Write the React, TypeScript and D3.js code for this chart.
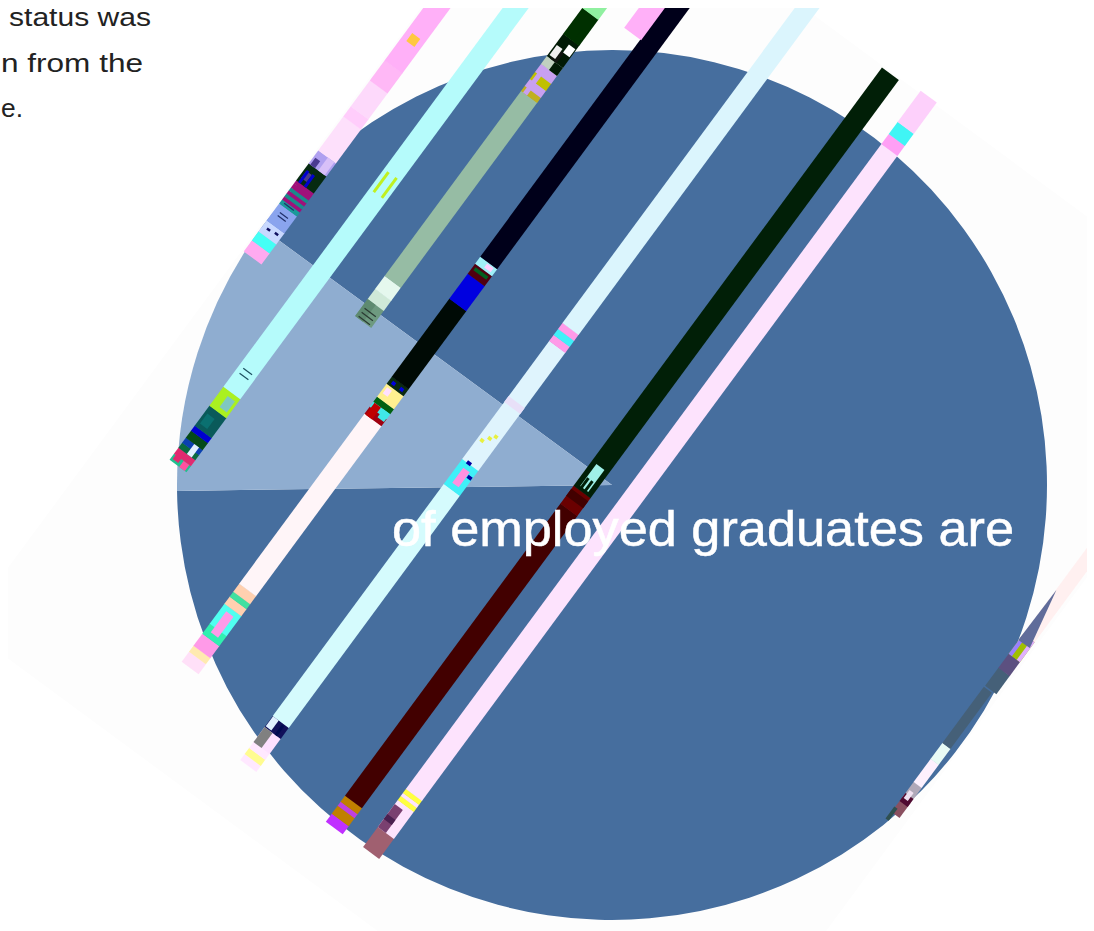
import React from "react";
import * as d3 from "d3";

const W = 1094, H = 931;
const shareValues = [89.7, 10.3];
const sliceColors = ["#466e9e", "#8fadd0"];
const headline = "of employed graduates are";
const noteLines = ["status was", "n from the", "e."];
const noteStarts = [9, 1, 1];
const noteLengths = [142, 142, 22];

type Stop = [number, string];
// each stripe: across-offset, thickness, stops read bottom-up (along-position, colour), last is the end
const stripeOffsets = [-424, -360.6, -297, -231, -251, -126, -20, 24.5, 424, 426.5];
const stripeWidths = [22, 21, 20, 21, 21, 20, 21, 20, 10, 14];
const stripeStops: Stop[][] = [
  [[258,"#ffaaf0"],[247,"#44fff5"],[238,"#c8d8ff"],[227,"#8aa4ee"],[210,"#1a9a9a"],[206,"#a0107a"],[203,"#1a8a8a"],[200,"#a0107a"],[197,"#1a8a8a"],[194,"#a0107a"],[190,"#a0107a"],[187,"#062a10"],[170,"#b0a0f0"],[157,"#fde0fb"],[123,"#ffcdfb"],[113,"#fdd9fb"],[87,"#ffb8f6"],[67,"#ffb0f8"],[0,""]],
  [[466,"#20c090"],[460,"#e02a70"],[454,"#0a6a40"],[449,"#0a40b0"],[444,"#054a18"],[437,"#0000d0"],[432,"#0a5a5a"],[412,"#aaf020"],[393,"#b5fbfb"],[0,""]],
  [[322,"#6e9a80"],[305,"#cfe9d8"],[295,"#e5f8ee"],[282,"#96bca4"],[97,"#c0b020"],[92,"#c8a0f0"],[85,"#c0c000"],[78,"#c8a0f0"],[70,"#c0d0c0"],[62,"#011a05"],[40,"#003000"],[14,"#90f0a0"],[0,""]],
  [[668,"#ffe0f8"],[658,"#ffeab0"],[652,"#ff9ae8"],[640,"#30f0b0"],[630,"#50fff0"],[610,"#ffd0b0"],[603,"#40e0a0"],[598,"#ffd0b0"],[590,"#fff5f8"],[420,"#a00010"],[413,"#40e8e8"],[408,"#006010"],[403,"#fff090"],[390,"#0a2a10"],[383,"#000a05"],[305,"#0000e0"],[280,"#500010"],[270,"#a0f0f8"],[263,"#00001a"],[0,""]],
  [[34,"#ffb0f8"],[0,""]],
  [[766,"#ffe8ff"],[760,"#fffc90"],[754,"#ffe8ff"],[748,"#fde0ff"],[733,"#10105a"],[722,"#d5fbfd"],[490,"#40f0f8"],[465,"#dff4fd"],[347,"#ff9ae8"],[341,"#40f0f8"],[335,"#ff9ae8"],[329,"#dbf5fd"],[0,""]],
  [[828,"#c030ff"],[820,"#c08000"],[812,"#c040e0"],[808,"#c08000"],[802,"#420000"],[510,"#6a0000"],[492,"#011f07"],[74,""]],
  [[853,"#a06070"],[833,"#fde3fd"],[806,"#ffff40"],[802,"#fde3fd"],[799,"#ffff40"],[795,"#fde3fd"],[150,"#ff9ff5"],[140,"#40f5f5"],[128,"#fdd0fb"],[97,""]],
  [[815,"#8a5060"],[800,"#b0a8b8"],[785,"#fdf0fd"],[762,"#e8fbf5"],[746,"#456078"],[690,""]],
  [[690,"#456078"],[672,"#5c5080"],[658,"#a0c000"],[638,"#fff0f0"],[530,""]],
];

// small glitch blocks: stripe index, along-from, along-to, across shift, thickness, colour
const glitchBlocks: [number, number, number, number, number, string][] = [
  [0,183,176,-5,7,"#4a3a90"],[0,170,157,5,8,"#d8c0f8"],[0,170,163,-6,6,"#4a3a90"],[0,187,175,0,3,"#0000d0"],[0,187,175,-7,3,"#0000d0"],
  [0,231,233,-4,4,"#101060"],[0,230,232,5,4,"#101060"],[0,207,208,-1,12,"#20306a"],[0,218,219,0,10,"#20306a"],[0,215,216,0,10,"#20306a"],
  [0,44,36,0,10,"#ffc840"],
  [1,195,175,-5,3,"#c0f020"],[1,195,175,5,3,"#c0f020"],[1,377,376,0,11,"#1d5060"],[1,372,371,0,11,"#1d5060"],
  [1,408,397,3,9,"#7fc8c0"],[1,428,418,-3,9,"#0a7070"],[1,454,444,3,6,"#e0f0ff"],[1,464,458,-5,7,"#e02a70"],[1,466,460,5,7,"#ff50a0"],
  [2,322,305,-5,10,"#5e8a70"],[2,321,320,0,14,"#2a3a32"],[2,317,316,0,14,"#2a3a32"],[2,313,312,0,14,"#2a3a32"],
  [2,97,70,-5,5,"#c8a0f0"],[2,70,62,5,10,"#011a05"],[2,62,52,-2,8,"#101510"],[2,52,44,5,8,"#ffffff"],[2,60,50,-5,7,"#f0f0f0"],[2,40,28,5,5,"#003000"],
  [3,614,635,0,9,"#ff9ae8"],[3,420,408,-5,8,"#c00000"],[3,416,408,6,8,"#40e8e8"],[3,398,392,-5,6,"#ffe0ff"],[3,388,385,-5,4,"#0000e0"],[3,388,385,5,4,"#0000e0"],
  [3,275,272,0,16,"#006020"],[3,268,264,3,8,"#ffd0ff"],
  [5,748,733,-5,10,"#808080"],[5,732,722,-6,7,"#e0f0ff"],[5,733,723,4,3,"#000a50"],[5,485,470,0,8,"#ff90e0"],[5,475,472,7,5,"#0000a0"],[5,466,463,-2,5,"#0000a0"],
  [5,445,442,-5,4,"#e8f040"],[5,436,433,4,4,"#e8f040"],[5,440,437,0,4,"#e8f040"],[5,408,402,0,20,"#e8e0f8"],
  [6,502,495,0,21,"#420000"],[6,489,467,0,10,"#a0f0e8"],[6,490,480,2,3,"#011f07"],[6,490,480,-3,3,"#011f07"],
  [7,833,810,-5,10,"#7a4070"],[7,825,820,-5,10,"#4a2050"],
  [8,804,796,0,10,"#500a30"],[8,800,792,-1,5,"#f0e0f0"],[8,822,810,-4,4,"#2f5050"],
  [9,658,638,-5,4,"#9a80ff"],[9,658,638,5,4,"#e0b0ff"],
];

const angle = 53.6;
const rad = (angle * Math.PI) / 180;
const cx = 612, cy = 485, radius = 435;
const along = (y: number, t: number) => (cy + t * Math.cos(rad) - y) / Math.sin(rad);

export default function App() {
  const arcs = d3
    .pie<number>()
    .sort(null)
    .startAngle((306.3 * Math.PI) / 180)
    .endAngle(((306.3 + 360) * Math.PI) / 180)(shareValues);
  const arc = d3.arc<d3.PieArcDatum<number>>().innerRadius(0).outerRadius(radius);
  const triLine = d3.line();
  const tri: [number, number][] = [
    [along(640, 419), 419],
    [along(590, 420), 420],
    [along(648, 433), 433],
  ];
  return (
    <svg width={W} height={H} style={{ position: "absolute", left: 0, top: 0, display: "block" }}>
      <defs>
        <clipPath id="frame"><rect x={8} y={8} width={1079} height={923} /></clipPath>
      </defs>
      <rect width={W} height={H} fill="#ffffff" />
      <g clipPath="url(#frame)">
        <g transform={`translate(${cx},${cy}) rotate(${-angle})`}>
          <rect x={-498} y={-437} width={996} height={874} fill="#fdfdfd" />
        </g>
        <g transform={`translate(${cx},${cy})`}>
          {arcs.map((a, i) => (
            <path key={i} d={arc(a) || ""} fill={sliceColors[i]} />
          ))}
        </g>
        <g transform={`translate(${cx},${cy}) rotate(${-angle})`}>
          {stripeStops.map((stops, i) => {
            const t = stripeOffsets[i], w = stripeWidths[i];
            return stops.slice(0, -1).map(([y, col], j) => {
              const s0 = along(y, t), s1 = along(stops[j + 1][0], t);
              return <rect key={`${i}-${j}`} x={s0} y={t - w / 2} width={s1 - s0 + 0.4} height={w} fill={col} />;
            });
          })}
          {glitchBlocks.map(([i, y0, y1, off, w, col], k) => {
            const t = stripeOffsets[i];
            const a0 = along(Math.max(y0, y1), t), a1 = along(Math.min(y0, y1), t);
            return <rect key={k} x={a0} y={t + off - w / 2} width={a1 - a0} height={w} fill={col} />;
          })}
          <path d={triLine(tri) + "Z"} fill="#606c9a" />
        </g>
        <text x={392} y={546} fontSize={50} fill="#ffffff" stroke="#ffffff" strokeWidth={0.5} fontFamily="'Liberation Sans', sans-serif" textLength={622} lengthAdjust="spacingAndGlyphs">{headline}</text>
      </g>
      <g fontFamily="'Liberation Sans', sans-serif" fontSize={25} fill="#222222">
        {noteLines.map((l, i) => (
          <text key={i} x={noteStarts[i]} y={26 + i * 45.5} textLength={noteLengths[i]} lengthAdjust="spacingAndGlyphs">{l}</text>
        ))}
      </g>
    </svg>
  );
}
